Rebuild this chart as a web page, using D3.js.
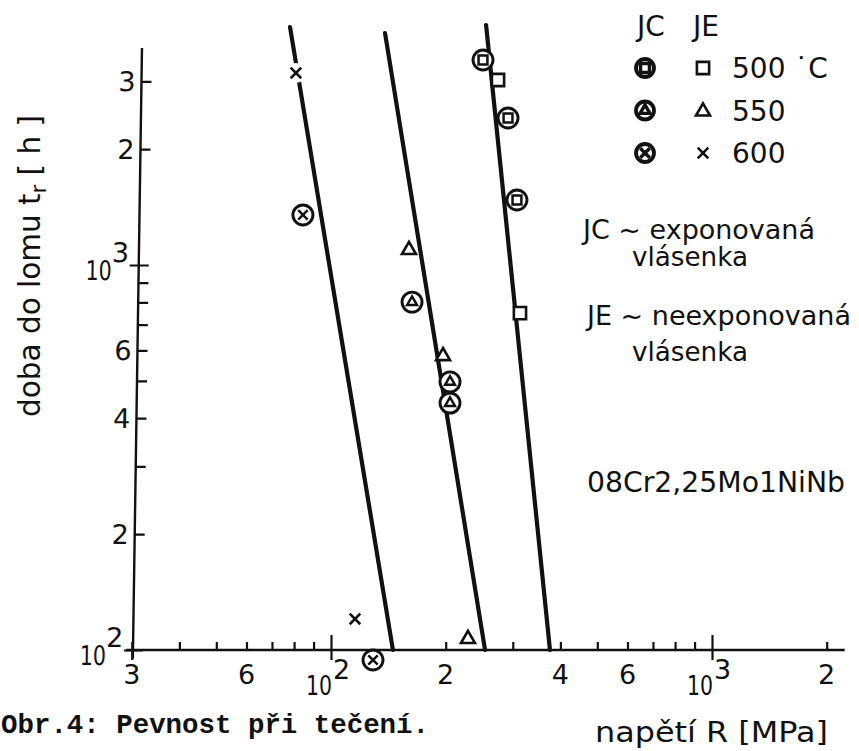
<!DOCTYPE html>
<html>
<head>
<meta charset="utf-8">
<script src="https://cdn.jsdelivr.net/npm/d3@7"></script>
<style>
	body { margin: 0; background: #fff; }
	svg { display: block; }
</style>
</head>
<body>
<script>
// values: [stress R in MPa, rupture time in h]
const temps = ["500", "550", "600"];
const jc500 = [[250.6, 3408], [291.5, 2409], [307.7, 1475]];
const jc550 = [[163.2, 801], [205.3, 497], [205.3, 438]];
const jc600 = [[84.4, 1349], [128.9, 94.2]];
const je500 = [[274.4, 3024], [313.3, 750]];
const je550 = [[160.2, 1094], [196.8, 580], [228.8, 106.8]];
const je600 = [[80.9, 3153], [115.6, 120.4]];

// hand drawn fit lines, both ends
const fit500 = [[255.3, 4201], [375.6, 100]];
const fit550 = [[138.6, 4005], [253.7, 100]];
const fit600 = [[78.06, 4151], [145.4, 100]];

const xLabelTicks = [30, 60, 200, 400, 600, 2000];
const xLabels = ["3", "6", "2", "4", "6", "2"];
const xMinorTicks = [40, 50, 70, 80, 90, 300, 500, 700, 800, 900];
const yLabelTicks = [200, 400, 600, 2000, 3000];
const yLabels = ["2", "4", "6", "2", "3"];
const yMinorTicks = [300, 500, 700, 800, 900];
const decades = [100, 1000];
const decadeExp = ["2", "3"];
const xExtent = [29, 2230];
const yExtent = [95, 3660];

const width = 859, height = 751;
const font = "DejaVu Sans";
const ink = "#111";

const x = d3.scaleLog()
	.domain([100, 1000])
	.range([331, 712]);

const y = d3.scaleLog()
	.domain([100, 1000])
	.range([650, 265]);

const svg = d3.select("body").append("svg")
	.attr("width", width)
	.attr("height", height)
	.style("background", "#fff");

// ---- x axis
const gx = svg.append("g")
	.attr("transform", `translate(0,${y(100)})`)
	.attr("stroke", ink);

gx.append("line")
	.attr("x1", x(xExtent[0]))
	.attr("x2", x(xExtent[1]))
	.attr("stroke-width", 2.4);

const tickAxis = (axis, g) => g
	.call(axis.tickFormat("").tickSizeOuter(0))
	.call(g => g.select(".domain").remove())
	.call(g => g.selectAll("line").attr("stroke", ink).attr("stroke-width", 2.2));

gx.append("g").call(g => tickAxis(d3.axisTop(x).tickValues([...xLabelTicks, ...xMinorTicks]).tickSize(8), g));
gx.append("g").call(g => tickAxis(d3.axisTop(x).tickValues(decades).tickSize(15), g));
gx.append("g").call(g => tickAxis(d3.axisBottom(x).tickValues([xLabelTicks[0], ...decades]).tickSize(10), g));

svg.append("g")
	.selectAll("text")
	.data(xLabelTicks)
	.join("text")
	.attr("x", d => x(d))
	.attr("y", y(100) + 34)
	.attr("text-anchor", "middle")
	.attr("font-family", font)
	.attr("font-size", 27)
	.attr("fill", ink)
	.text((d, i) => xLabels[i]);

// "10" is drawn narrow, as in the lettering
const ten = (g, px, py) => g.append("text")
	.attr("transform", `translate(${px},${py}) scale(0.76,1)`)
	.attr("text-anchor", "end")
	.text("10");

const xd = svg.append("g")
	.attr("font-family", font)
	.attr("font-size", 27)
	.attr("fill", ink);

decades.forEach((d, i) => {
	ten(xd, x(d) + 1, y(100) + 45);
	xd.append("text")
		.attr("x", x(d) + 2)
		.attr("y", y(100) + 29)
		.text(decadeExp[i]);
});

// ---- y axis (slightly leaning, as drawn)
const lean = Math.atan(-0.01495) * 180 / Math.PI;
const gy = svg.append("g")
	.attr("transform", `translate(142.7,0) skewX(${lean})`)
	.attr("stroke", ink);

gy.append("line")
	.attr("y1", y(yExtent[0]))
	.attr("y2", y(yExtent[1]))
	.attr("stroke-width", 2.4);

gy.append("g").call(g => tickAxis(d3.axisRight(y).tickValues([...yLabelTicks, ...yMinorTicks, ...decades]).tickSize(10), g));
gy.append("g").call(g => tickAxis(d3.axisLeft(y).tickValues(decades).tickSize(9), g));

const ly = gy.append("g")
	.attr("stroke", "none")
	.attr("font-family", font)
	.attr("font-size", 27)
	.attr("fill", ink);

ly.selectAll("text.num")
	.data(yLabelTicks)
	.join("text")
	.attr("class", "num")
	.attr("x", -6)
	.attr("y", d => y(d) + 10)
	.attr("text-anchor", "end")
	.text((d, i) => yLabels[i]);

decades.forEach((d, i) => {
	ten(ly, -27, y(d) + 15);
	ly.append("text")
		.attr("x", -27)
		.attr("y", y(d) - 3)
		.text(decadeExp[i]);
});

// ---- fit lines
const line = d3.line()
	.x(d => x(d[0]))
	.y(d => y(d[1]));

svg.append("g")
	.attr("fill", "none")
	.attr("stroke", ink)
	.attr("stroke-width", 4.2)
	.attr("stroke-linecap", "round")
	.selectAll("path")
	.data([fit500, fit550, fit600])
	.join("path")
	.attr("d", line);

// ---- markers
const inner = {
	"500": d3.symbol(d3.symbolSquare2, 100),
	"550": d3.symbol(d3.symbolTriangle2, 70),
	"600": d3.symbol(d3.symbolTimes, 60)
};
const open = {
	"500": d3.symbol(d3.symbolSquare2, 190),
	"550": d3.symbol(d3.symbolTriangle2, 140),
	"600": d3.symbol(d3.symbolTimes, 75)
};

function jcMark(g, t, r, w) {
	g.append("circle")
		.attr("r", r)
		.attr("fill", "#fff")
		.attr("stroke", ink)
		.attr("stroke-width", w);
	g.append("path")
		.attr("d", inner[t]())
		.attr("fill", "none")
		.attr("stroke", ink)
		.attr("stroke-width", w - 0.4);
}

function jeMark(g, t) {
	if (t === "600") {
		g.append("circle")
			.attr("r", 10)
			.attr("fill", "#fff");
	}
	g.append("path")
		.attr("d", open[t]())
		.attr("fill", t === "600" ? "none" : "#fff")
		.attr("stroke", ink)
		.attr("stroke-width", 2.6);
}

const jcSets = [jc500, jc550, jc600];
const jeSets = [je500, je550, je600];

temps.forEach((t, i) => {
	svg.append("g")
		.selectAll("g")
		.data(jeSets[i])
		.join("g")
		.attr("transform", d => `translate(${x(d[0])},${y(d[1])})`)
		.each(function () { jeMark(d3.select(this), t); });

	svg.append("g")
		.selectAll("g")
		.data(jcSets[i])
		.join("g")
		.attr("transform", d => `translate(${x(d[0])},${y(d[1])})`)
		.each(function () { jcMark(d3.select(this), t, 10, 2.9); });
});

// ---- legend
const legend = svg.append("g")
	.attr("font-family", font)
	.attr("font-size", 28)
	.attr("fill", ink);

legend.append("text").attr("x", 637).attr("y", 36).text("JC");
legend.append("text").attr("x", 693).attr("y", 36).text("JE");

const rowY = d3.scalePoint()
	.domain(temps)
	.range([68, 153]);

const rows = legend.selectAll("g.row")
	.data(temps)
	.join("g")
	.attr("class", "row");

rows.append("g")
	.attr("transform", d => `translate(645,${rowY(d)})`)
	.each(function (d) { jcMark(d3.select(this), d, 9, 3.8); });

rows.append("g")
	.attr("transform", d => `translate(703,${rowY(d) + (d === "550" ? 1 : 0)})`)
	.each(function (d) { jeMark(d3.select(this), d); });

rows.append("text")
	.attr("x", 732)
	.attr("y", d => rowY(d) + 10)
	.text(d => d === "500" ? `${d} \u02D9C` : d);

// ---- notes
const note = (txt, px, py, len, size) => svg.append("text")
	.attr("x", px)
	.attr("y", py)
	.attr("font-family", font)
	.attr("font-size", size)
	.attr("fill", ink)
	.attr("textLength", len)
	.attr("lengthAdjust", "spacingAndGlyphs")
	.text(txt);

note("JC ~ exponovaná", 583, 239, 232, 27);
note("vlásenka", 632, 266, 116, 27);
note("JE ~ neexponovaná", 587, 325, 264, 26);
note("vlásenka", 632, 361, 116, 27);
note("08Cr2,25Mo1NiNb", 587, 492, 258, 29);
note("napětí R [MPa]", 595, 742, 233, 29);

svg.append("text")
	.attr("x", 1)
	.attr("y", 733)
	.attr("font-family", "Liberation Mono")
	.attr("font-weight", "bold")
	.attr("font-size", 27)
	.attr("fill", ink)
	.attr("textLength", 428)
	.attr("lengthAdjust", "spacingAndGlyphs")
	.text("Obr.4: Pevnost při tečení.");

const yl = svg.append("text")
	.attr("transform", "translate(40,417) rotate(-90)")
	.attr("font-family", font)
	.attr("font-size", 30)
	.attr("fill", ink)
	.attr("textLength", 302)
	.attr("lengthAdjust", "spacingAndGlyphs");

yl.append("tspan").text("doba do lomu  t");
yl.append("tspan").attr("font-size", 21).attr("dy", 6).text("r");
yl.append("tspan").attr("dy", -6).text(" [ h ]");
</script>
</body>
</html>
